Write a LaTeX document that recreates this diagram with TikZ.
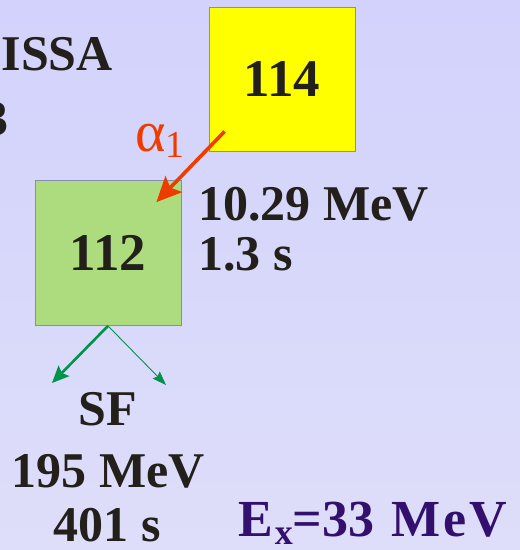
\documentclass[tikz,border=0pt]{standalone}
\usepackage{fontspec}
\setmainfont{Liberation Serif}
\usepackage{tikz}
\usetikzlibrary{positioning,arrows.meta,calc}
\definecolor{bgtop}{HTML}{D2D2FC}
\definecolor{bgbot}{HTML}{DEDEFA}
\definecolor{nuclyellow}{HTML}{FFFF00}
\definecolor{nuclgreen}{HTML}{ADDC7F}
\definecolor{nuclframe}{HTML}{8A8AB8}
\definecolor{txtdark}{HTML}{231F1A}
\definecolor{alphared}{HTML}{EE3C00}
\definecolor{sfgreen}{HTML}{00934A}
\definecolor{expurple}{HTML}{33106E}

\begin{document}
\begin{tikzpicture}[x=1pt, y=-1pt,
  nucl/.style={draw=nuclframe, line width=0.8pt, minimum width=146pt, minimum height=145pt, inner sep=0pt,
    font=\fontsize{53}{53}\selectfont\bfseries, text=txtdark},
  lbl/.style={inner sep=0pt, font=\fontsize{50}{50}\selectfont\bfseries, text=txtdark},
  adecay/.style={-{Stealth[length=25pt, width=23pt, inset=5pt]}, line width=3.6pt, draw=alphared},
  sfthick/.style={-{Stealth[length=17pt, width=15pt, inset=3pt]}, line width=2.6pt, draw=sfgreen},
  sfthin/.style={-{Stealth[length=14pt, width=10pt, inset=2pt]}, line width=0.9pt, draw=sfgreen}
]
% ---------- background ----------
\shade[top color=bgtop, bottom color=bgbot] (0,0) rectangle (520,550);
\useasboundingbox (0,0) rectangle (520,550);
\clip (0,0) rectangle (520,550);
% ---------- cut-off heading ----------
\node[lbl, anchor=base east] (head) at (113,70) {ISSA};
\node[lbl, anchor=base east] (headb) at (9,135) {3};
% ---------- nuclei ----------
\node[nucl, fill=nuclyellow, minimum height=144pt] (n114) at (282,79) {114};
\node[nucl, fill=nuclgreen] (n112) at (108,253) {112};
% alpha decay 114 -> 112
\coordinate (astart) at ($(n114.south west)+(16,-20)$);
\coordinate (aend) at ($(n112.north east)+(-25,22)$);
\draw[adecay] (astart) -- (aend);
\node[anchor=base west, inner sep=0pt, text=alphared] (alab) at (135,151)
  {\fontsize{58}{58}\selectfont α\raisebox{-6pt}{\fontsize{38}{38}\selectfont 1}};
\node[lbl, anchor=base west] (eal) at (198,220) {10.29 MeV};
\node[lbl, anchor=base west] (tal) at (198,270) {1.3 s};
% ---------- fission of 112 ----------
\coordinate (sfl) at (52,383);
\coordinate (sfr) at (166,385);
\draw[sfthick] (n112.south) -- (sfl);
\draw[sfthin] (n112.south) -- (sfr);
\node[lbl, anchor=base] (sf) at (108,425) {SF};
\node[lbl, anchor=base] (esf) at (108,487) {195 MeV};
\node[lbl, anchor=base] (tsf) at (107,541) {401 s};
% ---------- excitation energy ----------
\node[lbl, anchor=base west, text=expurple, font=\fontsize{52}{52}\selectfont\bfseries] (ex) at (238,536)
  {E\kern2pt\raisebox{-8pt}{\fontsize{36}{36}\selectfont x}=33\kern17pt M\kern3pt e\kern3pt V};
\end{tikzpicture}
\end{document}
